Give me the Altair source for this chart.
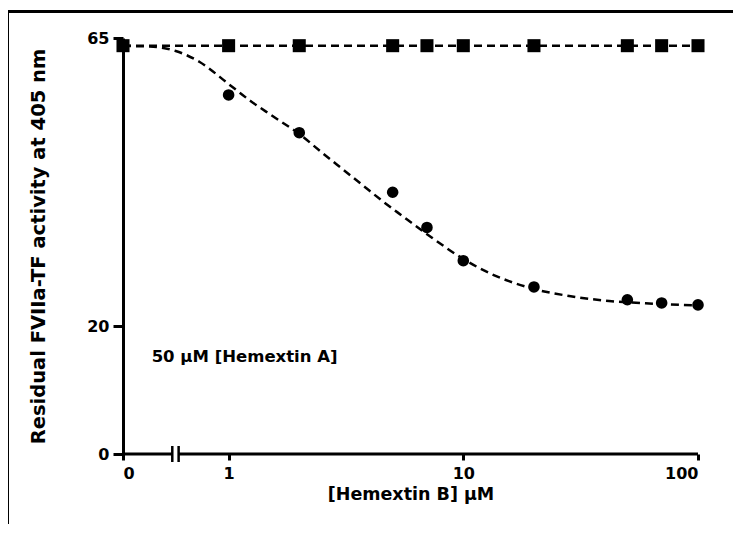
import altair as alt
import pandas as pd

# measured data
conc = [0, 1, 2, 5, 7, 10, 20, 50, 70, 100]
with_a = [63.8, 56.1, 50.2, 40.9, 35.4, 30.2, 26.1, 24.1, 23.6, 23.3]
control = [63.8, 63.8, 63.8, 63.8, 63.8, 63.8, 63.8, 63.8, 63.8, 63.8]

# fitted curve
fit_conc = [0, 0.461, 0.595, 0.753, 1, 1.24, 1.539, 2, 2.512, 3.055, 3.717, 4.521,
            5.5, 7.382, 10, 12.9, 16.48, 20, 28.25, 41.8, 61.9, 100]
fit_val = [63.75, 63.67, 62.97, 61.25, 57.81, 55.16, 52.81, 50.0, 47.03, 44.53, 42.03,
           39.53, 37.19, 33.75, 30.47, 28.28, 26.72, 25.78, 24.69, 23.91, 23.52, 23.2]

# axis break (in decades) and x tick positions
zero_pos = -0.45
break_left, break_right = -0.240, -0.213
x_ticks = [zero_pos, 0, 1, 2]
y_ticks = [0, 20, 65]

FONT = "DejaVu Sans"

pts = pd.DataFrame({"conc": conc, "a": with_a, "ctrl": control})
fit = pd.DataFrame({"conc": fit_conc, "v": fit_val})
axis_seg = pd.DataFrame({"x": [zero_pos, break_right], "x2": [break_left, 2], "y": [0, 0]})
breaks = pd.DataFrame({"x": [break_left, break_right]})
note = pd.DataFrame({"x": [-0.328], "y": [15.2], "t": ["50 µM [Hemextin A]"]})

pos_expr = f"datum.conc == 0 ? {zero_pos} : log(datum.conc) / LN10"
label_expr = ("datum.value < -0.4 ? '0' : datum.value == 0 ? '1' : "
              "datum.value == 1 ? '10' : '100'")

xscale = alt.Scale(domain=[zero_pos, 2], nice=False, zero=False)
yscale = alt.Scale(domain=[0, 65], nice=False)

xaxis = alt.Axis(values=x_ticks, labelExpr=label_expr, domain=False, grid=False,
                 tickSize=6, tickWidth=3, tickColor="black",
                 labelFont=FONT, labelFontWeight="bold", labelFontSize=16,
                 labelColor="black", labelPadding=5,
                 title="[Hemextin B] µM", titleFont=FONT, titleFontWeight="bold",
                 titleFontSize=17.5, titleColor="black", titlePadding=4)
yaxis = alt.Axis(values=y_ticks, grid=False, domainWidth=3, domainColor="black",
                 tickSize=10, tickWidth=3, tickColor="black",
                 labelFont=FONT, labelFontWeight="bold", labelFontSize=16,
                 labelColor="black", labelPadding=4,
                 title="Residual FVIIa-TF activity at 405 nm", titleFont=FONT,
                 titleFontWeight="bold", titleFontSize=19.5, titleColor="black",
                 titlePadding=38)

base_axes = alt.Chart(axis_seg).mark_rule(strokeWidth=3, color="black").encode(
    x=alt.X("x:Q", scale=xscale, axis=xaxis),
    x2="x2:Q",
    y=alt.Y("y:Q", scale=yscale, axis=yaxis),
)

break_marks = alt.Chart(breaks).mark_rule(strokeWidth=2.5, color="black").encode(
    x=alt.X("x:Q", scale=xscale),
    y=alt.value(408), y2=alt.value(424),
)

ctrl_line = alt.Chart(pts).transform_calculate(xp=pos_expr).mark_line(
    color="black", strokeWidth=2.5, strokeDash=[8, 5]).encode(
    x=alt.X("xp:Q", scale=xscale), y=alt.Y("ctrl:Q", scale=yscale))

fit_line = alt.Chart(fit).transform_calculate(xp=pos_expr).mark_line(
    color="black", strokeWidth=2.5, strokeDash=[8, 5], interpolate="monotone").encode(
    x=alt.X("xp:Q", scale=xscale), y=alt.Y("v:Q", scale=yscale))

circles = alt.Chart(pts).transform_calculate(xp=pos_expr).mark_point(
    shape="circle", filled=True, size=135, color="black", opacity=1).encode(
    x=alt.X("xp:Q", scale=xscale), y=alt.Y("a:Q", scale=yscale))

squares = alt.Chart(pts).transform_calculate(xp=pos_expr).mark_point(
    shape="square", filled=True, size=170, color="black", opacity=1).encode(
    x=alt.X("xp:Q", scale=xscale), y=alt.Y("ctrl:Q", scale=yscale))

text = alt.Chart(note).mark_text(align="left", baseline="middle", font=FONT,
                                 fontWeight="bold", fontSize=16.5, color="black").encode(
    x=alt.X("x:Q", scale=xscale), y=alt.Y("y:Q", scale=yscale), text="t:N")

frame_left = alt.Chart(note).mark_rule(strokeWidth=3, color="black").encode(
    x=alt.value(-115.5), y=alt.value(-28), y2=alt.value(560))
frame_top = alt.Chart(note).mark_rule(strokeWidth=3, color="black").encode(
    x=alt.value(-117), x2=alt.value(700), y=alt.value(-26.5))

chart = alt.layer(base_axes, break_marks, ctrl_line, fit_line, circles, squares, text,
                  frame_left, frame_top).properties(
    width=575, height=416,
    autosize=alt.AutoSizeParams(type="none"),
    padding={"left": 115, "top": 30, "right": 35, "bottom": 70},
    background="white",
).configure_view(stroke=None)

chart.save("out.html", embed_options={"renderer": "svg", "actions": False})
